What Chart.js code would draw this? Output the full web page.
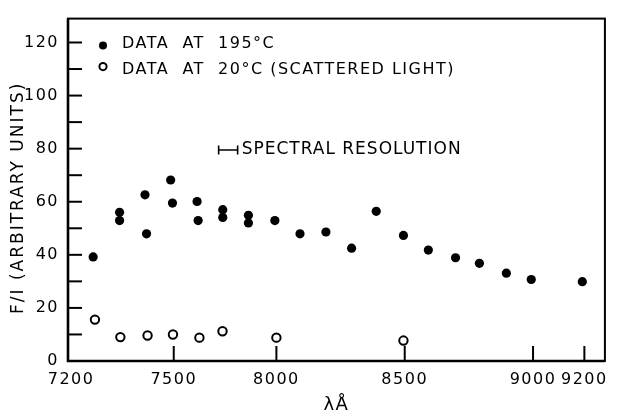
<!DOCTYPE html>
<html><head><meta charset="utf-8">
<script src="https://cdn.jsdelivr.net/npm/chart.js@4/dist/chart.umd.min.js"></script>
<style>html,body{margin:0;padding:0;background:#fff;}canvas{display:block}</style>
</head><body>
<canvas id="c" width="617" height="416"></canvas>
<script>
// ---- data ----
const hot195Lambda = [7286, 7389, 7389, 7488, 7494, 7588, 7595, 7691, 7695, 7791, 7791, 7891, 7891, 7994, 8092, 8193, 8293, 8389, 8495, 8592, 8698, 8791, 8896, 8993, 9192];
const hot195Value  = [39.2, 56.0, 52.9, 62.6, 47.9, 68.2, 59.5, 60.1, 52.9, 57.0, 54.1, 54.9, 52.0, 52.9, 47.9, 48.6, 42.5, 56.4, 47.3, 41.8, 38.9, 36.8, 33.1, 30.7, 29.9];
const cold20Lambda = [7293, 7392, 7498, 7597, 7700, 7790, 8000, 8495];
const cold20Value  = [15.6, 9.0, 9.6, 10.0, 8.8, 11.2, 8.8, 7.7];
const seriesLabels = ['DATA  AT  195\u00B0C', 'DATA  AT  20\u00B0C (SCATTERED LIGHT)'];
const xTickValues = [7200, 7600, 8000, 8500, 9000, 9200];
const xTickLabels = ['7200', '7500', '8000', '8500', '9000', '9200'];
const yLabelStep = 20;
const xTitle = '\u03BB\u00C5';
const yTitle = 'F/I (ARBITRARY UNITS)';
const resolutionLabel = 'SPECTRAL RESOLUTION';
const resolutionLambda = 7812;
const resolutionWidth = 74;
const resolutionValue = 79.5;

Chart.defaults.font.family = "'DejaVu Sans', sans-serif";
Chart.defaults.color = '#000';

const framePlugin = {
  id: 'frame',
  beforeUpdate(chart) { chart.ctx.letterSpacing = '1.5px'; },
  beforeLayout(chart) { chart.ctx.letterSpacing = '1.5px'; },
  beforeDraw(chart) { chart.ctx.letterSpacing = '1.5px'; },
  afterDraw(chart) {
    const {ctx, chartArea: a, scales: {x, y}} = chart;
    ctx.save();
    ctx.strokeStyle = '#000';
    ctx.fillStyle = '#000';
    // frame
    ctx.lineWidth = 2;
    ctx.strokeRect(a.left, a.top, a.right - a.left, a.bottom - a.top);
    ctx.lineWidth = 2.6;
    ctx.beginPath(); ctx.moveTo(a.left, a.top); ctx.lineTo(a.left, a.bottom); ctx.lineTo(a.right, a.bottom); ctx.stroke();
    // inward tick marks
    ctx.lineWidth = 2;
    y.ticks.forEach(t => {
      const py = y.getPixelForValue(t.value);
      ctx.beginPath(); ctx.moveTo(a.left, py); ctx.lineTo(a.left + 14, py); ctx.stroke();
    });
    x.ticks.forEach(t => {
      const px = x.getPixelForValue(t.value);
      if (px - a.left < 6) return;
      ctx.beginPath(); ctx.moveTo(px, a.bottom); ctx.lineTo(px, a.bottom - 15); ctx.stroke();
    });
    // legend
    ctx.font = "16px 'DejaVu Sans'";
    ctx.letterSpacing = '1.5px';
    ctx.textBaseline = 'middle';
    ctx.textAlign = 'left';
    const mx = a.left + 35, tx = a.left + 54;
    ctx.beginPath(); ctx.arc(mx, a.top + 27, 4, 0, Math.PI * 2); ctx.fill();
    ctx.fillText(chart.data.datasets[0].label, tx, a.top + 25);
    ctx.lineWidth = 2;
    ctx.beginPath(); ctx.arc(mx, a.top + 48, 3.6, 0, Math.PI * 2); ctx.stroke();
    ctx.fillText(chart.data.datasets[1].label, tx, a.top + 51);
    // spectral resolution bar
    const p1 = x.getPixelForValue(resolutionLambda - resolutionWidth / 2);
    const p2 = x.getPixelForValue(resolutionLambda + resolutionWidth / 2);
    const py = y.getPixelForValue(resolutionValue);
    ctx.lineWidth = 1.6;
    ctx.beginPath();
    ctx.moveTo(p1, py); ctx.lineTo(p2, py);
    ctx.moveTo(p1, py - 4.5); ctx.lineTo(p1, py + 4.5);
    ctx.moveTo(p2, py - 4.5); ctx.lineTo(p2, py + 4.5);
    ctx.stroke();
    ctx.font = "17px 'DejaVu Sans'";
    ctx.letterSpacing = '1px';
    ctx.fillText(resolutionLabel, p2 + 4, py);
    // y title
    ctx.font = "17px 'DejaVu Sans'";
    ctx.letterSpacing = '2px';
    ctx.textAlign = 'center';
    ctx.translate(19, (a.top + a.bottom) / 2 + 8);
    ctx.rotate(-Math.PI / 2);
    ctx.fillText(yTitle, 0, 0);
    ctx.restore();
  }
};

new Chart(document.getElementById('c'), {
  type: 'scatter',
  data: {
    datasets: [
      {
        label: seriesLabels[0],
        data: hot195Lambda.map((v, i) => ({x: v, y: hot195Value[i]})),
        pointStyle: 'circle', pointRadius: 4.6, pointHoverRadius: 4.6,
        backgroundColor: '#000', borderColor: '#000', borderWidth: 0
      },
      {
        label: seriesLabels[1],
        data: cold20Lambda.map((v, i) => ({x: v, y: cold20Value[i]})),
        pointStyle: 'circle', pointRadius: 4.2, pointHoverRadius: 4.2,
        backgroundColor: 'rgba(0,0,0,0)', borderColor: '#000', borderWidth: 2
      }
    ]
  },
  options: {
    responsive: false, animation: false, devicePixelRatio: 1,
    layout: {padding: {left: 0, right: 7, top: 15, bottom: 0}},
    plugins: {legend: {display: false}, tooltip: {enabled: false}},
    scales: {
      x: {
        type: 'linear', min: 7188, max: 9280,
        afterBuildTicks: s => { s.ticks = xTickValues.map(v => ({value: v})); },
        ticks: {callback: (v, i) => xTickLabels[i], padding: 9, font: {size: 16}, maxRotation: 0, autoSkip: false},
        grid: {display: false, drawTicks: false}, border: {display: false},
        title: {display: true, text: xTitle, font: {size: 18}, padding: 0},
        afterFit: s => { s.height = 55; }
      },
      y: {
        type: 'linear', min: 0, max: 129,
        ticks: {stepSize: 10, includeBounds: false, padding: 9, font: {size: 16},
                callback: v => (v % yLabelStep === 0 ? String(v) : '')},
        grid: {display: false, drawTicks: false}, border: {display: false},
        afterFit: s => { s.width = 68; }
      }
    }
  },
  plugins: [framePlugin]
});
</script>
</body></html>
